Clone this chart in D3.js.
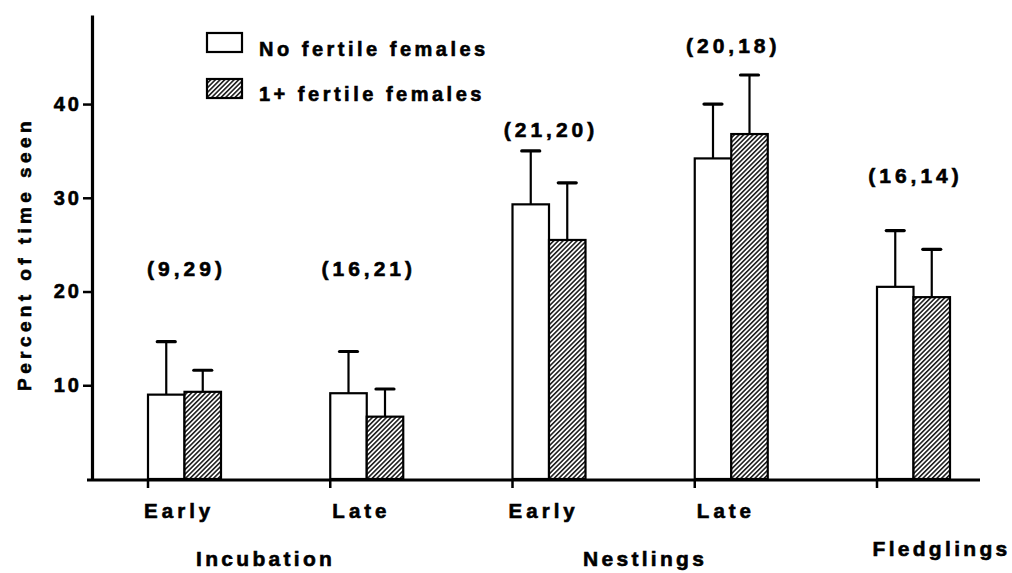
<!DOCTYPE html>
<html><head><meta charset="utf-8">
<script src="https://cdn.jsdelivr.net/npm/d3@7"></script>
<style>
body{margin:0;background:#fff;}
text{font-family:"Liberation Sans",Arial,sans-serif;font-weight:bold;fill:#000;stroke:#000;stroke-width:0.6px;}
</style></head>
<body><svg id="c" width="1012" height="573"></svg>
<script>
// ---- data ----
const categories = ["incEarly","incLate","nesEarly","nesLate","fledge"];
const stageLabels = ["Early","Late","Early","Late",""];
const noFertile = [9.0, 9.15, 29.3, 34.2, 20.5];
const noFertileErr = [5.65, 4.45, 5.7, 5.8, 6.0];
const oneFertile = [9.3, 6.65, 25.5, 36.8, 19.4];
const oneFertileErr = [2.3, 2.95, 6.1, 6.3, 5.1];
const sampleLabels = ["(9,29)","(16,21)","(21,20)","(20,18)","(16,14)"];
const sampleLabelAt = [22.3, 22.3, 37.1, 46.0, 32.2];
const yTicks = [10,20,30,40];
const groupLabels = ["Incubation","Nestlings","Fledglings"];
const groupMembers = [[0,1],[2,3],[4]];
const seriesNames = ["No fertile females","1+ fertile females"];

// ---- layout ----
const svg = d3.select("#c");
const y = d3.scaleLinear().domain([0,49.5]).range([479,15]);
const x = d3.scalePoint().domain(categories).range([148,877]);
const bw = 36.5;

const defs = svg.append("defs");
const pat = defs.append("pattern").attr("id","hatch").attr("patternUnits","userSpaceOnUse")
  .attr("width",3.3).attr("height",3.3).attr("patternTransform","rotate(45)");
pat.append("rect").attr("width",3.3).attr("height",3.3).attr("fill","#fff");
pat.append("line").attr("x1",0.8).attr("y1",0).attr("x2",0.8).attr("y2",3.3)
  .attr("stroke","#000").attr("stroke-width",1.4);

// y axis
const yAxis = svg.append("g").attr("transform","translate(92,0)")
  .call(d3.axisLeft(y).tickValues(yTicks).tickSize(9).tickSizeOuter(0).tickPadding(1));
yAxis.select(".domain").attr("stroke-width",3.2);
yAxis.selectAll(".tick line").attr("stroke-width",2.5);
yAxis.selectAll(".tick text").style("font-size","20px").style("letter-spacing","3px")
  .style("font-family","'Liberation Sans',Arial,sans-serif").attr("stroke","#000").attr("stroke-width",0.6);

// x baseline
svg.append("line").attr("x1",87).attr("x2",980).attr("y1",y(0)+1).attr("y2",y(0)+1)
  .attr("stroke","#000").attr("stroke-width",3.2);
svg.selectAll(".xt").data(categories).join("line").attr("class","xt")
  .attr("x1",d=>x(d)).attr("x2",d=>x(d)).attr("y1",y(0)).attr("y2",y(0)+9)
  .attr("stroke","#000").attr("stroke-width",2.5);

// bars
const series = [
  {vals:noFertile, err:noFertileErr, fill:"#fff", off:0},
  {vals:oneFertile, err:oneFertileErr, fill:"url(#hatch)", off:bw}
];
series.forEach(s=>{
  const g = svg.append("g");
  g.selectAll("rect").data(categories).join("rect")
    .attr("x",(d)=>x(d)+s.off).attr("width",bw)
    .attr("y",(d,i)=>y(s.vals[i])).attr("height",(d,i)=>y(0)-y(s.vals[i]))
    .attr("fill",s.fill).attr("stroke","#000").attr("stroke-width",2.2);
  g.selectAll(".ev").data(categories).join("line").attr("class","ev")
    .attr("x1",d=>x(d)+s.off+bw/2).attr("x2",d=>x(d)+s.off+bw/2)
    .attr("y1",(d,i)=>y(s.vals[i])).attr("y2",(d,i)=>y(s.vals[i]+s.err[i]))
    .attr("stroke","#000").attr("stroke-width",2.2);
  g.selectAll(".ec").data(categories).join("line").attr("class","ec")
    .attr("x1",d=>x(d)+s.off+bw/2-9).attr("x2",d=>x(d)+s.off+bw/2+9)
    .attr("y1",(d,i)=>y(s.vals[i]+s.err[i])).attr("y2",(d,i)=>y(s.vals[i]+s.err[i]))
    .attr("stroke","#000").attr("stroke-width",3.2).attr("stroke-linecap","round");
});

// sample size labels
svg.selectAll(".ss").data(categories).join("text").attr("class","ss")
  .attr("x",d=>x(d)+bw+2).attr("y",(d,i)=>y(sampleLabelAt[i]))
  .attr("text-anchor","middle").attr("dominant-baseline","middle")
  .style("font-size","21px").style("letter-spacing","4px")
  .text((d,i)=>sampleLabels[i]);

// stage labels
svg.selectAll(".st").data(categories).join("text").attr("class","st")
  .attr("x",d=>x(d)+bw*0.8+2).attr("y",518)
  .attr("text-anchor","middle")
  .style("font-size","20.5px").style("letter-spacing","4px")
  .text((d,i)=>stageLabels[i]);

// group labels
const groupShift = [-10, 5, 28];
groupLabels.forEach((lab,gi)=>{
  const m = groupMembers[gi];
  const cx = d3.mean(m, i=>x(categories[i])+bw) + groupShift[gi];
  svg.append("text").attr("x",cx).attr("y",gi===2?556:566)
    .attr("text-anchor","middle").style("font-size","21px").style("letter-spacing","3.3px")
    .text(lab);
});

// y title
svg.append("text").attr("transform","translate(31,254) rotate(-90)")
  .attr("text-anchor","middle").style("font-size","19px").style("letter-spacing","4.4px")
  .text("Percent of time seen");

// legend
const lg = svg.append("g");
seriesNames.forEach((n,i)=>{
  lg.append("rect").attr("x",207).attr("y",33+i*46).attr("width",35).attr("height",19)
    .attr("fill",i===0?"#fff":"url(#hatch)").attr("stroke","#000").attr("stroke-width",2.2);
  lg.append("text").attr("x",259).attr("y",56+i*45)
    .style("font-size","20px").style("letter-spacing","3.5px").text(n);
});
</script></body></html>
